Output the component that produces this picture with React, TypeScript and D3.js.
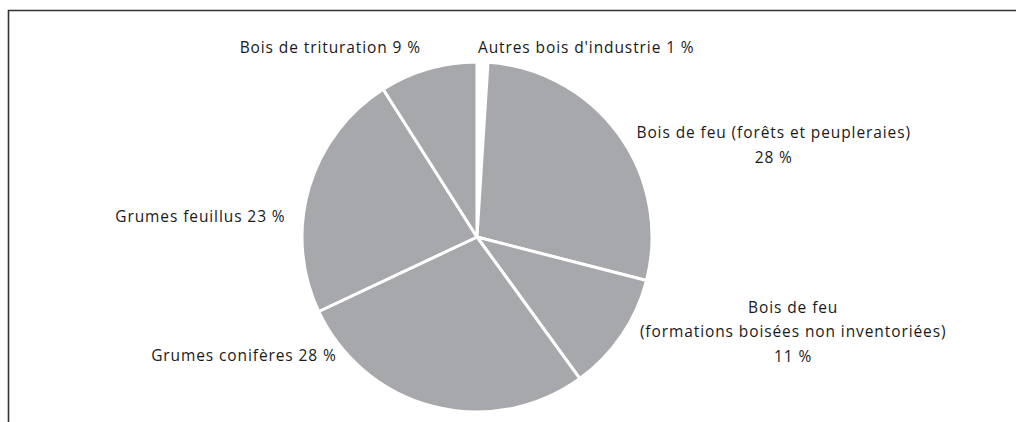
import React, { useEffect, useRef } from 'react';
import * as d3 from 'd3';

// slices, clockwise from 12 o'clock
const categories = [
  "Autres bois d'industrie",
  'Bois de feu (forêts et peupleraies)',
  'Bois de feu (formations boisées non inventoriées)',
  'Grumes conifères',
  'Grumes feuillus',
  'Bois de trituration',
];
const shares = [1, 28, 11, 28, 23, 9];
const labelLines = [
  ["Autres bois d'industrie 1 %"],
  ['Bois de feu (forêts et peupleraies)', '28 %'],
  ['Bois de feu', '(formations boisées non inventoriées)', '11 %'],
  ['Grumes conifères 28 %'],
  ['Grumes feuillus 23 %'],
  ['Bois de trituration 9 %'],
];
const sliceColors = ['#ffffff', '#a7a8ab', '#a7a8ab', '#a7a8ab', '#a7a8ab', '#a7a8ab'];

export default function App() {
  const ref = useRef<SVGSVGElement>(null);
  const width = 1016;
  const height = 422;
  const cx = 477;
  const cy = 237;
  const radius = 175;
  const labelRadius = 190;
  // label nudges from the outer centroid: [dx, dy, anchor]
  const labelLayout: [number, number, string][] = [
    [-5, 6, 'start'],
    [143, 13, 'middle'],
    [159, -31, 'middle'],
    [-93, -60, 'end'],
    [-9, 38, 'end'],
    [-3, -2, 'end'],
  ];

  useEffect(() => {
    const svg = d3.select(ref.current);
    svg.selectAll('*').remove();

    // ---------- frame ----------
    svg.append('path')
      .attr('d', `M8.5,${height} V10.5 H${width}`)
      .attr('fill', 'none')
      .attr('stroke', '#333')
      .attr('stroke-width', 1.6);

    // ---------- pie ----------
    const pie = d3.pie<number>().sort(null).value((d) => d);
    const arcs = pie(shares);
    const arc = d3.arc<d3.PieArcDatum<number>>().innerRadius(0).outerRadius(radius);
    const labelArc = d3.arc<d3.PieArcDatum<number>>().innerRadius(labelRadius).outerRadius(labelRadius);

    const g = svg.append('g').attr('transform', `translate(${cx},${cy})`);

    g.selectAll('path.slice')
      .data(arcs)
      .join('path')
      .attr('class', 'slice')
      .attr('d', arc)
      .attr('fill', (d, i) => sliceColors[i])
      .attr('stroke', '#fff')
      .attr('stroke-width', 3)
      .attr('stroke-linejoin', 'round')
      .append('title')
      .text((d, i) => categories[i]);

    // ---------- labels ----------
    const labels = g.selectAll('text.label')
      .data(arcs)
      .join('text')
      .attr('class', 'label')
      .attr('font-family', '"Open Sans", "Noto Sans", sans-serif')
      .attr('font-size', 15.5)
      .attr('letter-spacing', 0.9)
      .attr('fill', '#1a1a1a')
      .attr('text-anchor', (d, i) => labelLayout[i][2])
      .attr('transform', (d, i) => {
        const [x, y] = labelArc.centroid(d);
        return `translate(${x + labelLayout[i][0]},${y + labelLayout[i][1]})`;
      });

    labels.each(function (d, i) {
      const t = d3.select(this);
      labelLines[i].forEach((line, j) => {
        t.append('tspan').attr('x', 0).attr('y', j * 24.5).text(line);
      });
    });
  }, []);

  return (
    <svg
      ref={ref}
      width={width}
      height={height}
      style={{ position: 'absolute', left: 0, top: 0, background: '#fff' }}
    />
  );
}
